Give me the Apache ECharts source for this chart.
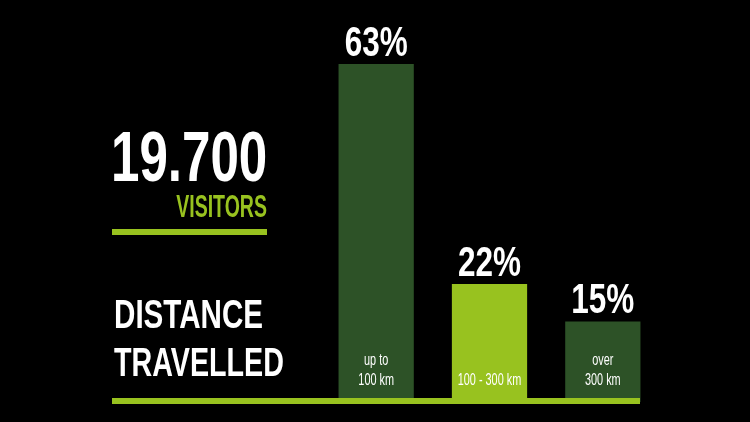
<!DOCTYPE html>
<html>
<head>
<meta charset="utf-8">
<script src="https://cdn.jsdelivr.net/npm/echarts@6/dist/echarts.min.js"></script>
<style>
html,body{margin:0;padding:0;background:#000;}
#chart{width:750px;height:422px;}
</style>
</head>
<body>
<div id="chart"></div>
<script>
// ---- data ----
const categories = ['up to\n100 km', '100 - 300 km', 'over\n300 km'];
const shares = [63, 22, 15];
const visitorsTotal = '19.700';
const visitorsLabel = 'VISITORS';
const titleLines = ['DISTANCE', 'TRAVELLED'];

// ---- styles ----
const DARK = '#2d5227';
const LIME = '#98c21f';
const barColors = [DARK, LIME, DARK];
const FONT = '"Liberation Sans", Arial, sans-serif';

function renderBar(params, api) {
  const i = params.dataIndex;
  const top = api.coord([api.value(0), api.value(1)]);
  const base = api.coord([api.value(0), 0]);
  const bw = api.size([1, 0])[0] * 0.664;
  const cx = top[0];
  return {
    type: 'group',
    children: [
      { type: 'rect', shape: { x: cx - bw / 2, y: top[1], width: bw, height: base[1] - top[1] },
        style: { fill: barColors[i] } },
      { type: 'text', x: cx, y: top[1] - 20, scaleX: 0.75,
        style: { text: api.value(1) + '%', fill: '#fff', font: 'bold 42px ' + FONT,
                 align: 'center', verticalAlign: 'middle' } },
      { type: 'text', x: cx, y: base[1] - 11.7, scaleX: 0.68,
        style: { text: categories[i], fill: '#fff', font: '16px ' + FONT, lineHeight: 20,
                 align: 'center', verticalAlign: 'bottom' } }
    ]
  };
}

const chart = echarts.init(document.getElementById('chart'));
chart.setOption({
  backgroundColor: '#000',
  animation: false,
  grid: { left: 319.5, right: 90.5, top: 64, bottom: 20 },
  xAxis: {
    type: 'category',
    data: categories,
    show: false
  },
  yAxis: {
    type: 'value',
    min: 0,
    max: 63,
    show: false,
    splitLine: { show: false }
  },
  series: [{
    type: 'custom',
    renderItem: renderBar,
    clip: false,
    data: shares.map((v, i) => [i, v])
  }],
  graphic: [
    { type: 'rect', shape: { x: 0, y: 404, width: 750, height: 18 }, style: { fill: '#000' }, z: 19 },
    { type: 'rect', shape: { x: 112, y: 398, width: 528, height: 6 }, style: { fill: LIME }, z: 20 },
    { type: 'rect', shape: { x: 112, y: 229, width: 155, height: 6 }, style: { fill: LIME } },
    { type: 'text', x: 111, y: 161.5, scaleX: 0.73,
      style: { text: visitorsTotal, fill: '#fff', font: 'bold 70px ' + FONT, align: 'left', verticalAlign: 'middle' } },
    { type: 'text', x: 267, y: 208.5, scaleX: 0.63,
      style: { text: visitorsLabel, fill: LIME, font: 'bold 31px ' + FONT, align: 'right', verticalAlign: 'middle' } },
    { type: 'text', x: 114, y: 316.5, scaleX: 0.74,
      style: { text: titleLines[0], fill: '#fff', font: 'bold 40px ' + FONT, align: 'left', verticalAlign: 'middle' } },
    { type: 'text', x: 114, y: 364.5, scaleX: 0.717,
      style: { text: titleLines[1], fill: '#fff', font: 'bold 40px ' + FONT, align: 'left', verticalAlign: 'middle' } }
  ]
});
</script>
</body>
</html>
